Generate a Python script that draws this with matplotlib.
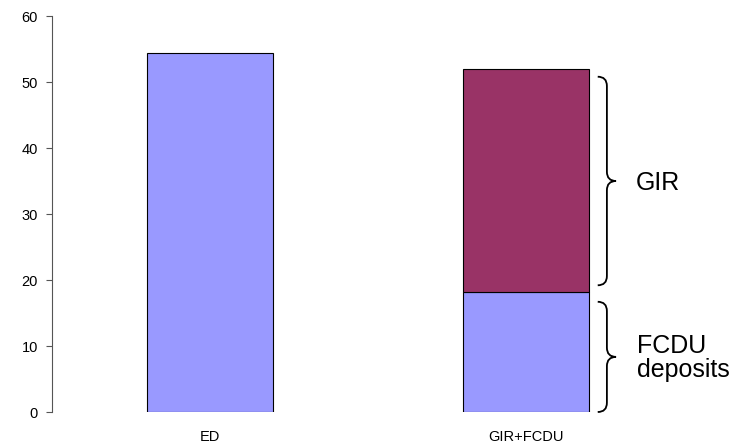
import numpy as np
import matplotlib.pyplot as plt
from matplotlib.path import Path
from matplotlib.patches import PathPatch

plt.rcParams['font.family'] = ['Liberation Sans', 'DejaVu Sans']

categories = ["ED", "GIR+FCDU"]
fcdu_deposits = [54.4, 18.2]
gir = [0.0, 33.8]
ed_color = "#9999FF"
gir_color = "#993366"


def draw_brace(ax, x0, width, ybot, ytop, r):
    x1 = x0 + width * 0.5
    x2 = x0 + width
    ymid = (ybot + ytop) / 2
    verts = [(x0, ytop), (x1, ytop), (x1, ytop - r),
             (x1, ymid + r),
             (x1, ymid), (x2, ymid),
             (x1, ymid), (x1, ymid - r),
             (x1, ybot + r),
             (x1, ybot), (x0, ybot)]
    codes = [Path.MOVETO, Path.CURVE3, Path.CURVE3,
             Path.LINETO,
             Path.CURVE3, Path.CURVE3,
             Path.CURVE3, Path.CURVE3,
             Path.LINETO,
             Path.CURVE3, Path.CURVE3]
    ax.add_patch(PathPatch(Path(verts, codes), facecolor="none",
                           edgecolor="black", lw=1.3, clip_on=False))


fig = plt.figure(figsize=(7.47, 4.43), dpi=100)
ax = fig.add_axes([52 / 747, 31 / 443, 632 / 747, 396 / 443])

x = np.arange(len(categories))
ax.bar(x, fcdu_deposits, width=0.4, color=ed_color, edgecolor="black", linewidth=0.8)
ax.bar(x[1:], gir[1:], width=0.4, bottom=fcdu_deposits[1:], color=gir_color,
       edgecolor="black", linewidth=0.8)

ax.set_xlim(-0.5, 1.5)
ax.set_ylim(0, 60)
ax.set_yticks(range(0, 61, 10))
ax.set_xticks(x)
ax.set_xticklabels(categories)
ax.tick_params(axis="x", length=0, pad=13, labelsize=10.5)
ax.tick_params(axis="y", length=4, width=0.8, color="#555555", labelsize=10.5, pad=6)
for s in ["top", "right", "bottom"]:
    ax.spines[s].set_visible(False)
ax.spines["left"].set_color("#555555")
ax.spines["left"].set_linewidth(0.8)

# braces and annotations
top_total = fcdu_deposits[1] + gir[1]
draw_brace(ax, 1.227, 0.058, fcdu_deposits[1] + 1.0, top_total - 1.2, 1.4)
draw_brace(ax, 1.227, 0.058, 0.0, fcdu_deposits[1] - 1.5, 1.4)
ax.text(1.347, (fcdu_deposits[1] + top_total) / 2 - 0.4, "GIR", fontsize=18,
        va="center", ha="left")
ax.text(1.35, fcdu_deposits[1] / 2 - 0.9, "FCDU\ndeposits", fontsize=18,
        va="center", ha="left", linespacing=1.0)

fig.savefig("out.png", dpi=100)
